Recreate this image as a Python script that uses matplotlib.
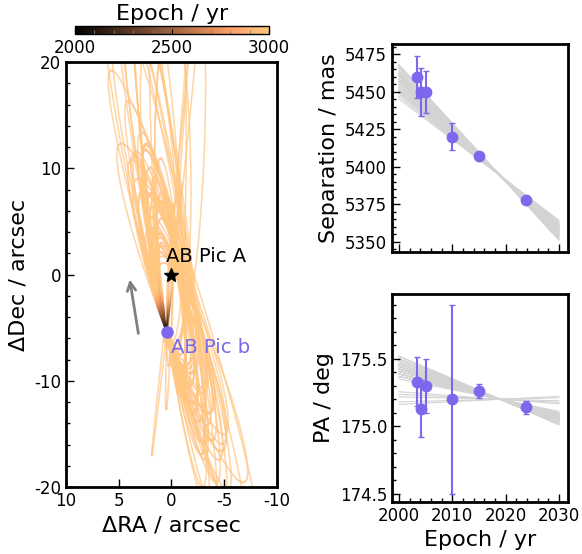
import numpy as np
import matplotlib
matplotlib.use("Agg")
import matplotlib.pyplot as plt
from matplotlib.collections import LineCollection
from matplotlib.ticker import MultipleLocator

plt.rcParams['axes.unicode_minus'] = False
plt.rcParams['font.family'] = 'DejaVu Sans'

# relative astrometry of AB Pic b
obs_epoch = [2003.4, 2004.2, 2005.0, 2010.0, 2015.1, 2023.8]
obs_sep = [5460, 5450, 5450, 5420, 5407, 5378]
obs_sep_err = [14, 16, 14, 9, 1, 1]
obs_pa = [175.33, 175.13, 175.30, 175.20, 175.26, 175.14]
obs_pa_err = [0.18, 0.21, 0.20, 0.70, 0.05, 0.05]

# system
dist_pc = 50.1
mstar = 0.85
ref_epoch = 2019.0
ref_sep = 5394.0   # mas
ref_pa = 175.2     # deg

# posterior draws at ref_epoch: sky-plane rates + unseen line-of-sight state
sep_rate = [-3.4, -3.1, -3.8, -2.9, -3.6, -3.3, -3.9, -3.0, -3.5, -3.2,
            -2.7, -3.7, -3.4, -3.8, -3.1, -3.5, -2.8, -3.3, -3.6, -3.0,
            -3.9, -3.2, -3.4, -2.9, -3.7, -3.5, -3.0, -3.3, -3.8, -3.1,
            -3.6, -3.4, -2.8, -3.9,
            -3.2, -3.3, -3.1, -3.4, -3.0,
            -3.6, -3.4, -3.2, -3.5, -3.3, -3.7, -3.1, -3.4, -3.0,
            -3.5, -3.2, -3.6, -3.3, -2.9, -3.1, -3.4]  # mas/yr
pa_rate = [-0.012, -0.014, -0.010, -0.016, -0.011, -0.013, -0.009, -0.015, -0.012, -0.017,
           -0.010, -0.014, -0.002, -0.013, -0.011, -0.016, -0.008, -0.012, -0.015, -0.010,
           -0.013, -0.011, 0.001, -0.014, -0.012, -0.009, -0.016, -0.013, -0.010, -0.003,
           -0.011, -0.015, -0.013, -0.012,
           -0.012, -0.010, -0.013, -0.011, -0.012,
           -0.014, -0.001, -0.012, -0.017, -0.010, -0.016, -0.013, 0.002, -0.011,
           -0.015, -0.012, -0.014, -0.009, -0.013, -0.014, -0.012]  # deg/yr
z_los = [10, 10, 10, 10, 11, 11, 11, 12, 12, 12,
         12, 13, 13, 13, 13, 14, 14, 14, 14, 15,
         15, 15, 16, 16, 16, 17, 17, 18, 18, 9,
         9, 9, 8, 8,
         20, 22, 24, 19, 21,
         4, 6, 8, 10, 12, 3, 7, 4, 5,
         10, 12, 11, 13, 9, 14, 11]  # arcsec
vz_los = [0.0, 0.8, 1.7, 2.5, -0.5, 1.2, 2.0, 0.0, 0.8, 1.6,
          2.6, -0.8, 0.5, 1.4, 2.2, 0.0, 1.0, 1.8, 2.6, -1.0,
          0.3, 1.3, 0.0, 1.0, 2.0, -0.5, 0.8, 0.0, 1.5, 0.5,
          1.5, 2.5, 1.2, 2.4,
          0.5, 1.0, 0.0, 1.8, -0.5,
          6.9, 6.2, 5.5, 4.5, 4.0, 7.6, 5.6, 7.7, 7.2,
          -1.7, -1.6, -2.2, -1.8, -1.5, -2.2, -2.4]  # mas/yr

planet_color = 'mediumslateblue'
gm = 4 * np.pi**2 * mstar / dist_pc**3  # arcsec^3 / yr^2


def make_orbit(sdot, pdot, z, vz):
    th = np.radians(ref_pa)
    s = ref_sep / 1000.
    r = np.array([s * np.sin(th), s * np.cos(th), z])
    w = np.radians(pdot) * s
    vr = sdot / 1000.
    v = np.array([vr * np.sin(th) + w * np.cos(th),
                  vr * np.cos(th) - w * np.sin(th), vz / 1000.])
    rn = np.linalg.norm(r)
    a = 1. / (2. / rn - v.dot(v) / gm)
    h = np.cross(r, v)
    evec = np.cross(v, h) / gm - r / rn
    e = np.linalg.norm(evec)
    p = evec / e
    q = np.cross(h / np.linalg.norm(h), p)
    n = np.sqrt(gm / abs(a)**3)
    E0 = np.arctan2(r.dot(v) / np.sqrt(gm * abs(a)), 1 - rn / a)
    M0 = E0 - e * np.sin(E0)
    return dict(a=a, e=e, p=p, q=q, n=n, E0=E0, M0=M0)


def ecc_anom(orb, t):
    e = orb['e']
    M = orb['M0'] + orb['n'] * (np.asarray(t) - ref_epoch)
    E = orb['E0'] + (M - orb['M0']) / (1 - e * np.cos(orb['E0']))
    for _ in range(30):
        E = E - (E - e * np.sin(E) - M) / (1 - e * np.cos(E))
    return E


def sky_pos(orb, E):
    a, e = orb['a'], orb['e']
    pos = (a * (np.cos(E) - e))[:, None] * orb['p'] + \
          (a * np.sqrt(1 - e**2) * np.sin(E))[:, None] * orb['q']
    return pos[:, 0], pos[:, 1]


orbits = [make_orbit(*pars) for pars in zip(sep_rate, pa_rate, z_los, vz_los)]
orbits = [o for o in orbits if o['a'] > 0]

fig = plt.figure(figsize=(5.82, 5.54), dpi=100)
ax = fig.add_axes([0.1134, 0.1209, 0.3625, 0.7671])
cax = fig.add_axes([0.1289, 0.9386, 0.3333, 0.0144])
ax_sep = fig.add_axes([0.6735, 0.5451, 0.3024, 0.3755])
ax_pa = fig.add_axes([0.6735, 0.0939, 0.3024, 0.3755])

cmap = plt.get_cmap('copper')
norm = matplotlib.colors.Normalize(vmin=2000, vmax=3000)

# sky tracks, one period from 2000 on
for orb in orbits:
    E_start = ecc_anom(orb, [2000.0])[0]
    E = E_start + np.linspace(0, 2 * np.pi, 4000)
    t = ref_epoch + (E - orb['e'] * np.sin(E) - orb['M0']) / orb['n']
    x, y = sky_pos(orb, E)
    pts = np.array([x, y]).T.reshape(-1, 1, 2)
    segs = np.concatenate([pts[:-1], pts[1:]], axis=1)
    lc = LineCollection(segs, cmap=cmap, norm=norm, linewidth=1)
    lc.set_array(t[:-1])
    ax.add_collection(lc)

th = np.radians(ref_pa)
ax.plot(0, 0, marker='*', color='k', ms=10, zorder=5)
ax.plot(ref_sep / 1000. * np.sin(th), ref_sep / 1000. * np.cos(th), 'o',
        color=planet_color, ms=8, zorder=5)
ax.text(0.5, 0.85, 'AB Pic A', fontsize=14, va='bottom', ha='left')
ax.text(0.0, -7.4, 'AB Pic b', fontsize=14, va='baseline', ha='left', color=planet_color)
ax.annotate('', xy=(4.0, -0.2), xytext=(3.1, -5.8),
            arrowprops=dict(arrowstyle='->', color='gray', lw=2, mutation_scale=15))

ax.set_xlim(10, -10)
ax.set_ylim(-20, 20)
ax.xaxis.set_major_locator(MultipleLocator(5))
ax.yaxis.set_major_locator(MultipleLocator(10))
ax.yaxis.set_minor_locator(MultipleLocator(2))
ax.set_xlabel('ΔRA / arcsec', fontsize=16)
ax.set_ylabel('ΔDec / arcsec', fontsize=16)

sm = plt.cm.ScalarMappable(norm=norm, cmap=cmap)
cbar = fig.colorbar(sm, cax=cax, orientation='horizontal')
cbar.set_ticks([2000, 2500, 3000])
cbar.ax.xaxis.set_minor_locator(MultipleLocator(100))
cbar.ax.tick_params(which='both', direction='in', labelsize=12, colors='k')
cbar.ax.tick_params(which='minor', length=3, color='gray')
cbar.set_label('Epoch / yr', fontsize=16)
cbar.ax.xaxis.set_label_position('top')
cbar.outline.set_linewidth(1)

# model separation / PA over the observing baseline
t_mod = np.linspace(2000, 2030, 200)
for orb in orbits:
    x, y = sky_pos(orb, ecc_anom(orb, t_mod))
    ax_sep.plot(t_mod, np.hypot(x, y) * 1000, color='lightgray', lw=0.8, zorder=1)
    ax_pa.plot(t_mod, np.degrees(np.arctan2(x, y)) % 360, color='lightgray', lw=0.8, zorder=1)

ax_sep.errorbar(obs_epoch, obs_sep, yerr=obs_sep_err, fmt='o', color=planet_color,
                ms=7.5, capsize=2, elinewidth=1.5, zorder=3)
ax_pa.errorbar(obs_epoch, obs_pa, yerr=obs_pa_err, fmt='o', color=planet_color,
               ms=7.5, capsize=2, elinewidth=1.5, zorder=3)

for a in (ax_sep, ax_pa):
    a.set_xlim(1998.7, 2031.7)
    a.xaxis.set_major_locator(MultipleLocator(10))
    a.xaxis.set_minor_locator(MultipleLocator(2))
ax_sep.set_ylim(5343, 5482)
ax_sep.yaxis.set_major_locator(MultipleLocator(25))
ax_sep.yaxis.set_minor_locator(MultipleLocator(5))
ax_sep.set_xticklabels([])
ax_sep.set_ylabel('Separation / mas', fontsize=16)
ax_pa.set_ylim(174.44, 175.98)
ax_pa.yaxis.set_major_locator(MultipleLocator(0.5))
ax_pa.yaxis.set_minor_locator(MultipleLocator(0.1))
ax_pa.set_ylabel('PA / deg', fontsize=16)
ax_pa.set_xlabel('Epoch / yr', fontsize=16)

for a in (ax, ax_sep, ax_pa):
    a.tick_params(which='both', direction='in', labelsize=12)
    a.tick_params(which='major', length=6, width=1)
    a.tick_params(which='minor', length=3, width=1)
    for sp in a.spines.values():
        sp.set_linewidth(2)

fig.savefig('out.png', dpi=100)
